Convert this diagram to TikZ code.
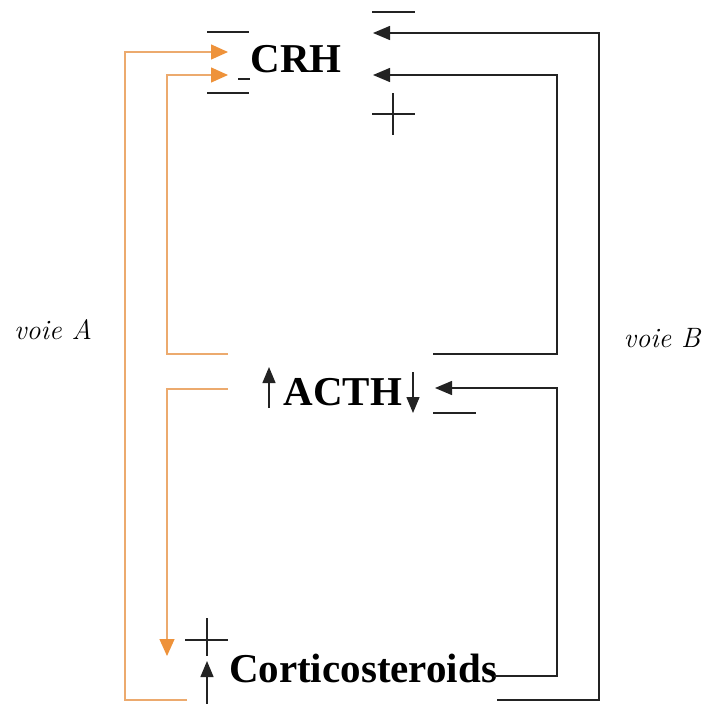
\documentclass[tikz,border=0pt]{standalone}
\usepackage{fontspec}
\setmainfont{Liberation Serif}
\newfontfamily\lmfont{Latin Modern Roman}
\usetikzlibrary{arrows.meta}
\definecolor{orng}{RGB}{238,146,58}
\definecolor{orngline}{RGB}{236,170,110}
\definecolor{blk}{RGB}{35,35,35}
\tikzset{
  hormone/.style={font=\fontsize{41}{44}\selectfont\bfseries, inner sep=0pt, anchor=base},
  voie/.style={font=\lmfont\itshape\fontsize{28}{32}\selectfont, inner sep=0pt},
  orangeline/.style={draw=orngline, line width=1.4pt},
  blackline/.style={draw=blk, line width=1.4pt},
  otip/.style={-{Triangle[length=17pt,width=15pt,fill=orng,color=orng]}},
  btip/.style={-{Triangle[length=17pt,width=14pt]}},
  stip/.style={-{Triangle[length=16pt,width=13pt]}},
  signbar/.style={draw=blk, line width=1.4pt}
}
\begin{document}
\begin{tikzpicture}[x=1pt,y=-1pt]
\useasboundingbox (0,0) rectangle (703,704);
% text nodes
\node[hormone] (crh) at (296,72) {CRH};
\node[hormone] (acth) at (343,405) {ACTH};
\node[hormone] (cort) at (363,682) {Corticosteroids};
\node[voie] (va) at (53,330) {voie A};
\node[voie] (vb) at (662,338) {voie B};
% coordinates
\coordinate (oA0) at (187,700);
\coordinate (oA1) at (125,700);
\coordinate (oA2) at (125,52);
\coordinate (oAt) at (228,52);
\coordinate (iA0) at (228,354);
\coordinate (iA1) at (167,354);
\coordinate (iA2) at (167,75);
\coordinate (iAt) at (228,75);
\coordinate (dA0) at (228,389);
\coordinate (dA1) at (167,389);
\coordinate (dAt) at (167,656);
\coordinate (iB0) at (433,354);
\coordinate (iB1) at (557,354);
\coordinate (iB2) at (557,75);
\coordinate (iBt) at (373,75);
\coordinate (oB0) at (497,700);
\coordinate (oB1) at (599,700);
\coordinate (oB2) at (599,33);
\coordinate (oBt) at (373,33);
\coordinate (cB0) at (494,676);
\coordinate (cB1) at (557,676);
\coordinate (cB2) at (557,388);
\coordinate (cBt) at (435,388);
% voie A (orange)
\draw[orangeline, otip] (oA0) -- (oA1) -- (oA2) -- (oAt);
\draw[orangeline, otip] (iA0) -- (iA1) -- (iA2) -- (iAt);
\draw[orangeline, otip] (dA0) -- (dA1) -- (dAt);
% voie B (black)
\draw[blackline, btip] (iB0) -- (iB1) -- (iB2) -- (iBt);
\draw[blackline, btip] (oB0) -- (oB1) -- (oB2) -- (oBt);
\draw[blackline, btip] (cB0) -- (cB1) -- (cB2) -- (cBt);
% small arrows next to hormones
\coordinate (u1a) at (269,408);
\coordinate (u1b) at (269,367);
\draw[blackline, stip] (u1a) -- (u1b);
\coordinate (d1a) at (413,372);
\coordinate (d1b) at (413,413);
\draw[blackline, stip] (d1a) -- (d1b);
\coordinate (u2a) at (207,704);
\coordinate (u2b) at (207,661);
\draw[blackline, stip] (u2a) -- (u2b);
% signs
\coordinate (m1a) at (207,32); \coordinate (m1b) at (249,32);
\draw[signbar] (m1a) -- (m1b);
\coordinate (m2a) at (207,93); \coordinate (m2b) at (249,93);
\draw[signbar] (m2a) -- (m2b);
\coordinate (m3a) at (238,79); \coordinate (m3b) at (250,79);
\draw[signbar] (m3a) -- (m3b);
\coordinate (m4a) at (372,12); \coordinate (m4b) at (415,12);
\draw[signbar] (m4a) -- (m4b);
\coordinate (m5a) at (433,413); \coordinate (m5b) at (476,413);
\draw[signbar] (m5a) -- (m5b);
\coordinate (p1a) at (372,114); \coordinate (p1b) at (415,114);
\coordinate (p1c) at (393,93); \coordinate (p1d) at (393,135);
\draw[signbar] (p1a) -- (p1b);
\draw[signbar] (p1c) -- (p1d);
\coordinate (p2a) at (185,640); \coordinate (p2b) at (228,640);
\coordinate (p2c) at (207,618); \coordinate (p2d) at (207,656);
\draw[signbar] (p2a) -- (p2b);
\draw[signbar] (p2c) -- (p2d);
\end{tikzpicture}
\end{document}
